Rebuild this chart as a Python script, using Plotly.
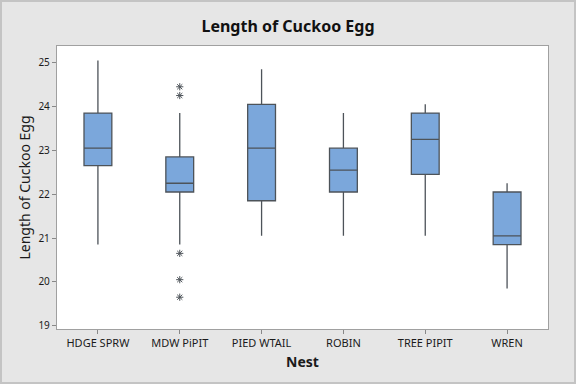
import plotly.graph_objects as go

nests = ["HDGE SPRW", "MDW PiPIT", "PIED WTAIL", "ROBIN", "TREE PIPIT", "WREN"]
q1 = [22.65, 22.05, 21.85, 22.05, 22.45, 20.85]
median = [23.05, 22.25, 23.05, 22.55, 23.25, 21.05]
q3 = [23.85, 22.85, 24.05, 23.05, 23.85, 22.05]
lower = [20.85, 20.85, 21.05, 21.05, 21.05, 19.85]
upper = [25.05, 23.85, 24.85, 23.85, 24.05, 22.25]

outlier_nest = ["MDW PiPIT"] * 5
outlier_val = [24.45, 24.25, 20.65, 20.05, 19.65]

yticks = [19, 20, 21, 22, 23, 24, 25]

FONT = "Noto Sans"
DARK = "#4d5359"

fig = go.Figure()
fig.add_trace(go.Box(
    x=nests, q1=q1, median=median, q3=q3,
    lowerfence=lower, upperfence=upper,
    boxpoints=False, width=0.34, whiskerwidth=0,
    fillcolor="#7ba7db", line=dict(color=DARK, width=1.3),
    showlegend=False, hoverinfo="skip",
))
fig.add_trace(go.Scatter(
    x=outlier_nest, y=outlier_val, mode="markers",
    marker=dict(symbol="asterisk-open", size=6, color=DARK,
                line=dict(color=DARK, width=1)),
    showlegend=False, hoverinfo="skip",
))

fig.update_layout(
    width=576, height=384,
    margin=dict(l=57, r=28, t=46, b=55),
    paper_bgcolor="#e6e6e6", plot_bgcolor="white",
    font=dict(family=FONT, color="#1a1a1a", size=11),
    title=dict(text="<b>Length of Cuckoo Egg</b>", x=0.5, xanchor="center",
               y=0.93, yanchor="middle",
               font=dict(family=FONT, size=16, color="#111")),
    shapes=[dict(type="rect", xref="paper", yref="paper",
                 x0=-57/491 + 1/491, x1=1 + 27/491, y0=-55/283 + 1/283, y1=1 + 45/283,
                 line=dict(color="#c4c4c4", width=2), fillcolor="rgba(0,0,0,0)")],
)
fig.update_xaxes(
    range=[-0.5, 5.5], showgrid=False, zeroline=False,
    showline=True, linecolor="#a0a0a0", linewidth=1.3, mirror=True,
    ticks="outside", ticklen=4, tickcolor="#888",
    tickfont=dict(size=11, family=FONT),
    title=dict(text="<b>Nest</b>", font=dict(size=14, family=FONT), standoff=7),
)
fig.update_yaxes(
    range=[18.925, 25.38], tickvals=yticks, ticktext=[str(v) for v in yticks],
    showgrid=False, zeroline=False,
    showline=True, linecolor="#a0a0a0", linewidth=1.3, mirror=True,
    ticks="outside", ticklen=4, tickcolor="#888",
    tickfont=dict(size=10, family=FONT),
    title=dict(text="Length of Cuckoo Egg", font=dict(size=14, family=FONT), standoff=4),
)

fig.write_html("out.html", config={"displayModeBar": False},
               post_script="document.body.style.margin='0';")
